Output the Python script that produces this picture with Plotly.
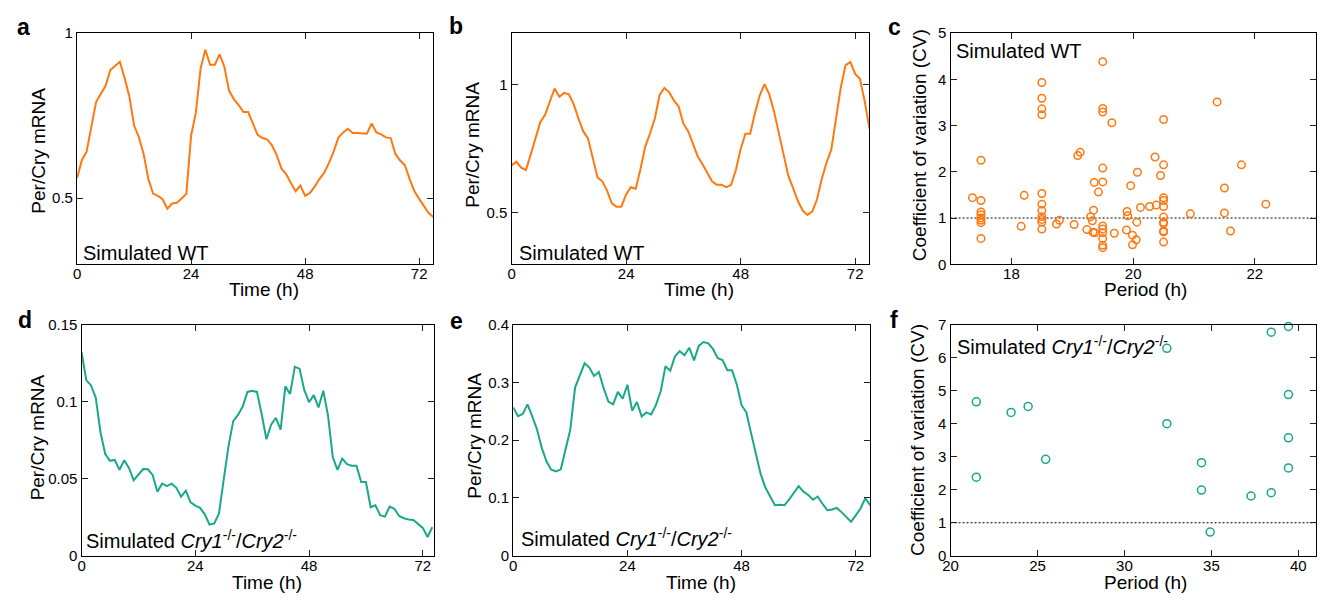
import plotly.graph_objects as go

W, H = 1322, 602
ORANGE = "#FF7810"
GREEN = "#19A988"
FONT = "Liberation Sans, Arial, Helvetica, sans-serif"

# ---------------- data ----------------
hours_a = list(range(76))
wt_a = [0.561, 0.615, 0.641, 0.715, 0.791, 0.816, 0.840, 0.888, 0.901, 0.913,
        0.864, 0.808, 0.720, 0.685, 0.634, 0.558, 0.514, 0.507, 0.497, 0.468,
        0.484, 0.486, 0.499, 0.513, 0.690, 0.759, 0.893, 0.949, 0.904, 0.904,
        0.935, 0.898, 0.825, 0.800, 0.782, 0.761, 0.761, 0.725, 0.692, 0.682,
        0.678, 0.661, 0.631, 0.590, 0.573, 0.546, 0.521, 0.538, 0.507, 0.516,
        0.535, 0.558, 0.577, 0.606, 0.641, 0.684, 0.699, 0.710, 0.697, 0.697,
        0.696, 0.695, 0.726, 0.699, 0.693, 0.684, 0.682, 0.634, 0.614, 0.600,
        0.558, 0.521, 0.498, 0.475, 0.455, 0.443]

hours_b = list(range(76))
wt_b = [0.685, 0.699, 0.676, 0.667, 0.727, 0.794, 0.853, 0.882, 0.932, 0.984,
        0.952, 0.967, 0.961, 0.923, 0.868, 0.818, 0.790, 0.708, 0.638, 0.623,
        0.587, 0.537, 0.524, 0.524, 0.572, 0.600, 0.594, 0.670, 0.758, 0.809,
        0.866, 0.958, 0.986, 0.970, 0.938, 0.914, 0.847, 0.818, 0.765, 0.720,
        0.689, 0.657, 0.623, 0.609, 0.609, 0.600, 0.609, 0.667, 0.749, 0.808,
        0.808, 0.889, 0.957, 1.001, 0.961, 0.895, 0.815, 0.733, 0.644, 0.596,
        0.546, 0.509, 0.492, 0.505, 0.552, 0.632, 0.695, 0.746, 0.866, 0.989,
        1.075, 1.087, 1.041, 1.022, 0.935, 0.828]

wt_period = [17.5, 17.5, 17.5, 17.5, 17.5, 17.5, 17.5, 17.5, 17.36, 18.16, 18.21,
             18.5, 18.5, 18.5, 18.5, 18.5, 18.5, 18.5, 18.5, 18.5, 18.5, 18.5,
             18.74, 18.79, 19.03, 19.09, 19.13, 19.24, 19.30, 19.33, 19.35, 19.34,
             19.36, 19.37, 19.43,
             19.5, 19.5, 19.5, 19.5, 19.5, 19.5, 19.5, 19.5, 19.5, 19.5, 19.5,
             19.65, 19.69, 19.90, 19.91, 19.89, 19.96, 19.99, 19.99, 20.05, 20.06,
             20.07, 20.12, 20.27, 20.36, 20.38, 20.45,
             20.5, 20.5, 20.5, 20.5, 20.5, 20.5, 20.5, 20.5, 20.5, 20.5, 20.5,
             20.94, 21.38, 21.50, 21.50, 21.60, 21.78, 22.18]
wt_cv = [2.25, 1.38, 1.13, 1.07, 1.00, 0.95, 0.90, 0.56, 1.44, 0.82, 1.49,
         3.93, 3.59, 3.36, 3.23, 1.53, 1.30, 1.16, 1.03, 0.97, 0.91, 0.76,
         0.87, 0.95, 0.86, 2.35, 2.42, 0.75, 1.03, 0.94, 1.17, 0.69,
         1.77, 0.68, 1.56,
         4.38, 3.37, 3.29, 2.08, 1.78, 0.83, 0.76, 0.68, 0.56, 0.41, 0.36,
         3.06, 0.67, 1.14, 1.05, 0.74, 1.70, 0.63, 0.42, 0.53, 0.91,
         1.99, 1.23, 1.25, 2.32, 1.28, 1.92,
         3.13, 2.15, 1.44, 1.38, 1.25, 1.02, 0.91, 0.88, 0.72, 0.70, 0.48,
         1.09, 3.51, 1.65, 1.11, 0.72, 2.15, 1.30]

hours_d = list(range(75))
ko_d = [0.132, 0.114, 0.1105, 0.1025, 0.080, 0.066, 0.0616, 0.0622, 0.0557, 0.062,
        0.057, 0.049, 0.0527, 0.0563, 0.0561, 0.0525, 0.0416, 0.0468, 0.0452, 0.0468,
        0.0441, 0.0384, 0.0422, 0.0347, 0.0326, 0.0311, 0.0269, 0.0202, 0.021, 0.0275,
        0.0496, 0.071, 0.0874, 0.0914, 0.0968, 0.1063, 0.1071, 0.1063, 0.092, 0.0756,
        0.085, 0.0895, 0.0819, 0.1099, 0.105, 0.1225, 0.1214, 0.1074, 0.0996, 0.1042,
        0.0962, 0.1071, 0.091, 0.0641, 0.0557, 0.063, 0.0595, 0.0584, 0.0584, 0.0479,
        0.0479, 0.0315, 0.0328, 0.0263, 0.0254, 0.0319, 0.0305, 0.0258, 0.0244, 0.0235,
        0.0233, 0.0206, 0.0181, 0.0122, 0.0185]

hours_e = list(range(76))
ko_e = [0.2566, 0.2415, 0.2454, 0.262, 0.241, 0.2185, 0.1866, 0.163, 0.149, 0.146,
        0.1496, 0.1838, 0.2185, 0.291, 0.311, 0.333, 0.3255, 0.311, 0.318, 0.290,
        0.2667, 0.262, 0.2835, 0.2717, 0.2958, 0.251, 0.266, 0.241, 0.248, 0.2443,
        0.261, 0.2846, 0.328, 0.320, 0.345, 0.354, 0.347, 0.360, 0.338, 0.363,
        0.3697, 0.3675, 0.3574, 0.3417, 0.3384, 0.321, 0.321, 0.2958, 0.2605, 0.248,
        0.2118, 0.1754, 0.1417, 0.118, 0.1025, 0.0874, 0.0885, 0.0874, 0.0975, 0.108,
        0.1204, 0.1109, 0.1053, 0.097, 0.1025, 0.090, 0.079, 0.080, 0.0829, 0.0756,
        0.0672, 0.0588, 0.070, 0.0818, 0.0997, 0.0874]

ko_period = [21.48, 21.48, 23.48, 24.46, 25.47, 32.44, 32.44, 34.43, 34.43, 34.93,
             37.28, 38.44, 38.44, 39.43, 39.43, 39.43, 39.43]
ko_cv = [4.66, 2.38, 4.34, 4.52, 2.92, 6.28, 4.00, 2.82, 1.99, 0.72,
         1.81, 6.77, 1.91, 6.94, 4.88, 3.57, 2.66]

time_ticks = [0, 24, 48, 72]
cv_threshold = 1.0

# ---------------- layout helpers ----------------
def px_x(v):
    return v / W

def px_y(v):
    return 1 - v / H

panels = {
    # name: (x0, x1, ytop, ybottom) in pixels
    "a": (69.5, 428.0, 24.7, 262.7),
    "b": (506.7, 866.7, 24.7, 262.7),
    "c": (948.3, 1315.7, 24.7, 262.7),
    "d": (74.0, 428.3, 324.7, 562.7),
    "e": (508.3, 867.3, 324.7, 562.7),
    "f": (948.3, 1315.7, 324.7, 562.7),
}
order = ["a", "b", "c", "d", "e", "f"]

fig = go.Figure()

axis_common = dict(
    showline=True, linecolor="black", linewidth=1.3, mirror="ticks",
    ticks="inside", ticklen=6, tickwidth=1.2, tickcolor="#222",
    showgrid=False, zeroline=False,
    tickfont=dict(family=FONT, size=15, color="black"),
)

x_specs = {
    "a": dict(range=[0, 75], tickvals=time_ticks),
    "b": dict(range=[0, 75], tickvals=time_ticks),
    "c": dict(range=[17, 23], tickvals=[18, 20, 22]),
    "d": dict(range=[0, 74.3], tickvals=time_ticks),
    "e": dict(range=[0, 75], tickvals=time_ticks),
    "f": dict(range=[20, 41], tickvals=[20, 25, 30, 35, 40]),
}
y_specs = {
    "a": dict(range=[0.3, 1.0], tickvals=[0.5, 1], ticktext=["0.5", "1"]),
    "b": dict(range=[0.3, 1.2], tickvals=[0.5, 1], ticktext=["0.5", "1"]),
    "c": dict(range=[0, 5], tickvals=[0, 1, 2, 3, 4, 5]),
    "d": dict(range=[0, 0.15], tickvals=[0, 0.05, 0.1, 0.15],
              ticktext=["0", "0.05", "0.1", "0.15"]),
    "e": dict(range=[0, 0.4], tickvals=[0, 0.1, 0.2, 0.3, 0.4],
              ticktext=["0", "0.1", "0.2", "0.3", "0.4"]),
    "f": dict(range=[0, 7], tickvals=[0, 1, 2, 3, 4, 5, 6, 7]),
}

layout_axes = {}
for i, name in enumerate(order, start=1):
    x0, x1, yt, yb = panels[name]
    sx = "" if i == 1 else str(i)
    xa = dict(axis_common, domain=[px_x(x0), px_x(x1)], anchor="y" + sx,
              ticklabelstandoff=-4, **x_specs[name])
    ya = dict(axis_common, domain=[px_y(yb), px_y(yt)], anchor="x" + sx, **y_specs[name])
    layout_axes["xaxis" + sx] = xa
    layout_axes["yaxis" + sx] = ya

# ---------------- traces ----------------
line_w = 2
fig.add_trace(go.Scatter(x=hours_a, y=wt_a, mode="lines",
                         line=dict(color=ORANGE, width=line_w), xaxis="x", yaxis="y"))
fig.add_trace(go.Scatter(x=hours_b, y=wt_b, mode="lines",
                         line=dict(color=ORANGE, width=line_w), xaxis="x2", yaxis="y2"))
fig.add_trace(go.Scatter(x=wt_period, y=wt_cv, mode="markers",
                         marker=dict(symbol="circle-open", size=7.5, color=ORANGE,
                                     line=dict(width=1.5, color=ORANGE)),
                         xaxis="x3", yaxis="y3", cliponaxis=False))
fig.add_trace(go.Scatter(x=hours_d, y=ko_d, mode="lines",
                         line=dict(color=GREEN, width=line_w), xaxis="x4", yaxis="y4"))
fig.add_trace(go.Scatter(x=hours_e, y=ko_e, mode="lines",
                         line=dict(color=GREEN, width=line_w), xaxis="x5", yaxis="y5"))
fig.add_trace(go.Scatter(x=ko_period, y=ko_cv, mode="markers",
                         marker=dict(symbol="circle-open", size=8, color=GREEN,
                                     line=dict(width=1.5, color=GREEN)),
                         xaxis="x6", yaxis="y6", cliponaxis=False))

shapes = []
for xr, yr in (("x3", "y3"), ("x6", "y6")):
    shapes.append(dict(type="line", xref=xr + " domain", yref=yr,
                       x0=0, x1=1, y0=cv_threshold, y1=cv_threshold,
                       line=dict(color="black", width=1, dash="2px,2px"), layer="below"))

# ---------------- annotations ----------------
ann = []

def text_at(txt, x, y, size, xanchor="center", angle=0, bold=False):
    if bold:
        txt = "<b>" + txt + "</b>"
    ann.append(dict(text=txt, x=px_x(x), y=px_y(y), xref="paper", yref="paper",
                    xanchor=xanchor, yanchor="middle", showarrow=False,
                    textangle=angle, font=dict(family=FONT, size=size, color="black")))

# panel letters
for letter, (lx, ly) in {"a": (16, 19), "b": (451, 18), "c": (892, 19),
                         "d": (17, 320), "e": (451, 321), "f": (891, 320)}.items():
    text_at(letter, lx, ly, 23, bold=True)

# axis titles
for tx, ty, t in [(258, 289, "Time (h)"), (695, 289, "Time (h)"), (1144, 289, "Period (h)"),
                  (261, 590, "Time (h)"), (697, 590, "Time (h)"), (1144, 590, "Period (h)")]:
    text_at(t, tx, ty, 19)
for tx, ty, t in [(31, 146, "Per/Cry mRNA"), (466.5, 140, "Per/Cry mRNA"),
                  (916.7, 140, "Coefficient of variation (CV)"),
                  (30, 441, "Per/Cry mRNA"), (468.5, 439.5, "Per/Cry mRNA"),
                  (915, 443, "Coefficient of variation (CV)")]:
    text_at(t, tx, ty, 19, angle=-90)

# in-panel labels
wt_label = "Simulated WT"
ko_label = "Simulated <i>Cry1</i><sup>-/-</sup>/<i>Cry2</i><sup>-/-</sup>"
text_at(wt_label, 73, 251, 20, xanchor="left")
text_at(wt_label, 512, 251, 20, xanchor="left")
text_at(wt_label, 952, 43, 20, xanchor="left")
text_at(ko_label, 76, 546, 20, xanchor="left")
text_at(ko_label, 514, 544, 20, xanchor="left")
text_at(ko_label, 953, 346, 20, xanchor="left")

fig.update_layout(
    width=W, height=H, margin=dict(l=0, r=0, t=0, b=0),
    paper_bgcolor="white", plot_bgcolor="white",
    showlegend=False, shapes=shapes, annotations=ann,
    font=dict(family=FONT, color="black"),
    **layout_axes,
)

fig.write_html("out.html", config={"displayModeBar": False})
